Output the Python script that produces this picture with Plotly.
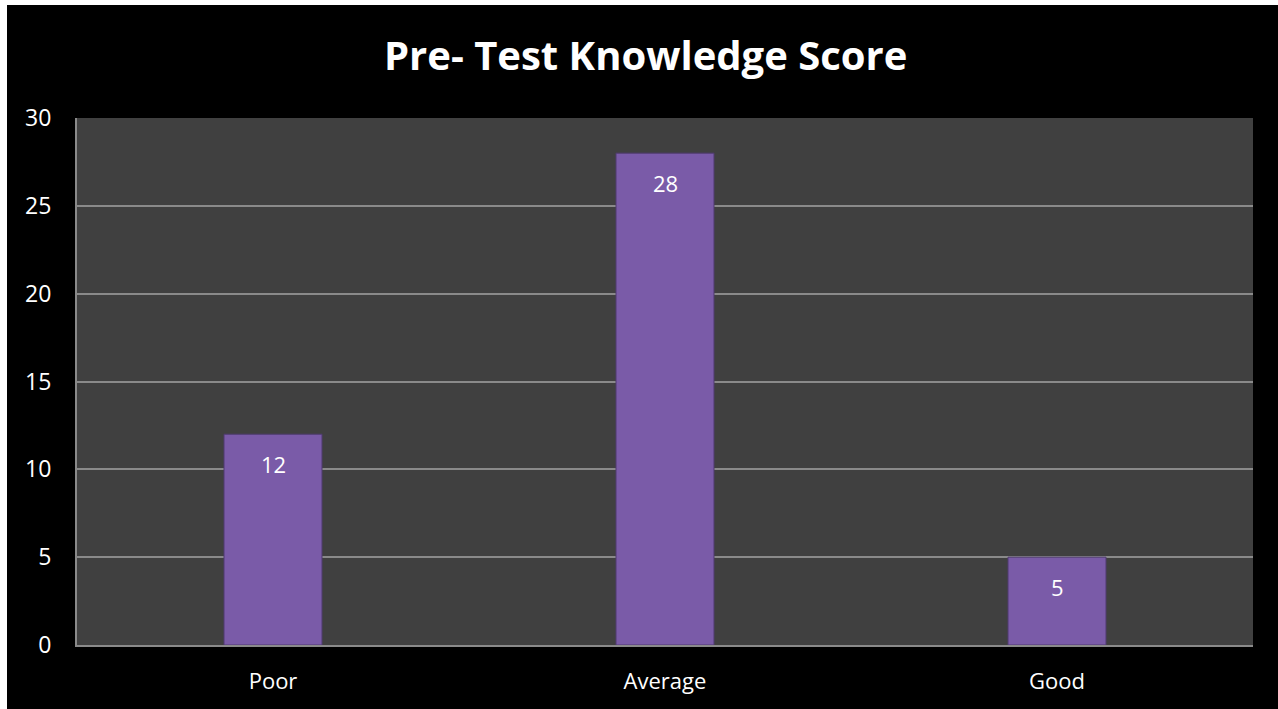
import plotly.graph_objects as go

categories = ["Poor", "Average", "Good"]
values = [12, 28, 5]
y_ticks = [0, 5, 10, 15, 20, 25, 30]
title_text = "Pre- Test Knowledge Score"

W, H = 1278, 709
ml, mr, mt, mb = 77, 25, 118, 64
ph = H - mt - mb
pw = W - ml - mr

def py(px):  # pixel y from top -> paper y
    return (H - mb - px) / ph

def pxx(px):
    return (px - ml) / pw

fig = go.Figure()
fig.add_trace(go.Bar(
    x=categories, y=values,
    marker=dict(color="#7a5ba8", line=dict(color="#4e3a6e", width=1)),
    hoverinfo="skip",
))

annotations = [
    dict(x=c, y=v, xref="x", yref="y", text=str(v), showarrow=False,
         yshift=-30, yanchor="middle",
         font=dict(color="white", size=22, family="Open Sans"))
    for c, v in zip(categories, values)
]
annotations.append(dict(
    x=pxx(645), y=py(55), xref="paper", yref="paper", text="<b>%s</b>" % title_text,
    showarrow=False, xanchor="center", yanchor="middle",
    font=dict(color="white", size=40, family="Open Sans")))

fig.update_layout(
    width=W, height=H,
    margin=dict(l=ml, r=mr, t=mt, b=mb),
    paper_bgcolor="black",
    plot_bgcolor="#404040",
    bargap=0.75,
    showlegend=False,
    annotations=annotations,
    shapes=[
        dict(type="rect", xref="paper", yref="paper", x0=pxx(0), x1=pxx(W),
             y0=py(5), y1=py(0), fillcolor="white", line=dict(width=0), layer="below"),
        dict(type="rect", xref="paper", yref="paper", x0=pxx(0), x1=pxx(7),
             y0=py(H), y1=py(0), fillcolor="white", line=dict(width=0), layer="below"),
    ],
    xaxis=dict(
        showgrid=False, showline=True, linecolor="#8a8a8a", linewidth=2,
        tickfont=dict(color="white", size=22, family="Open Sans"),
        ticks="outside", ticklen=16, tickcolor="rgba(0,0,0,0)",
    ),
    yaxis=dict(
        range=[0, 30], tickvals=y_ticks, showgrid=True, gridcolor="#8a8a8a", gridwidth=1.5,
        showline=True, linecolor="#8a8a8a", linewidth=2, zeroline=False,
        tickfont=dict(color="white", size=23, family="Open Sans"),
        ticks="outside", ticklen=19, tickcolor="rgba(0,0,0,0)",
    ),
)

fig.write_html("out.html", config={"displayModeBar": False},
               post_script="document.body.style.margin='0';document.body.style.overflow='hidden';")
